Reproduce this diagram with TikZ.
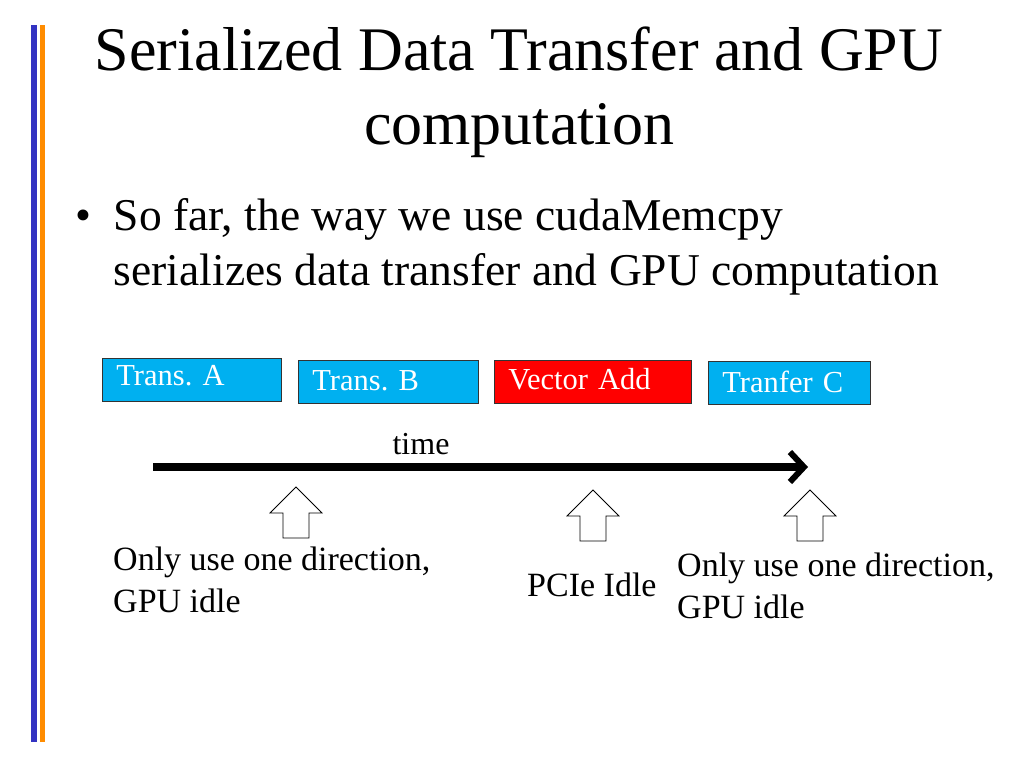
\documentclass[tikz,border=0pt]{standalone}
\usepackage{fontspec}
\setmainfont{Liberation Serif}
\usetikzlibrary{arrows.meta}
\definecolor{boxblue}{RGB}{0,176,240}
\frenchspacing
\tikzset{
 tbox/.style={draw=black!80,line width=0.8pt,minimum height=43pt,text=white,font=\fontsize{30.5}{32}\selectfont,anchor=north west,inner sep=0pt,text depth=0pt},
 uparr/.style={draw,line width=0.8pt,fill=white},
 lbl/.style={font=\fontsize{34}{42}\selectfont,align=left,anchor=north west,inner sep=0pt}
}
\newcommand{\myuparr}[2]{\draw[uparr] (#1-13,#2) -- (#1-13,#2-25) -- (#1-26,#2-25) -- (#1,#2-51) -- (#1+26,#2-25) -- (#1+13,#2-25) -- (#1+13,#2) -- cycle;}
\begin{document}
\begin{tikzpicture}[x=1pt,y=-1pt]
\useasboundingbox (0,0) rectangle (1024,768);
\fill[blue!70!black!80] (31,25) rectangle (37,742);
\fill[orange!90!yellow] (40,25) rectangle (45,742);
\node (title) at (519,92) [font=\fontsize{62}{74}\selectfont,align=center] {Serialized Data Transfer and GPU\\computation};
\node (bullet) at (75,198) [anchor=north west,inner sep=0pt,font=\fontsize{45.5}{55}\selectfont,align=left] {\textbullet\ \ So far, the way we use cudaMemcpy\\\hphantom{\textbullet\ \ }serializes data transfer and GPU computation};
\node[tbox,fill=boxblue,minimum width=179pt,text width=175pt] (a) at (102,358) {\hspace*{12pt}\raisebox{8pt}{Trans. A}};
\node[tbox,fill=boxblue,minimum width=180pt,text width=176pt] (b) at (298,360) {\hspace*{12pt}\raisebox{3pt}{Trans. B}};
\node[tbox,fill=red,minimum width=197pt,text width=193pt] (v) at (494,360) {\hspace*{12pt}\raisebox{5pt}{Vector Add}};
\node[tbox,fill=boxblue,minimum width=162pt,text width=158pt] (c) at (708,361) {\hspace*{12pt}\raisebox{2pt}{Tranfer C}};
\node (time) at (421,444) [font=\fontsize{32}{34}\selectfont] {time};
\coordinate (ts) at (153,467);
\coordinate (te) at (808,467);
\draw[line width=8pt,-{Straight Barb[length=14pt,width=30pt,line width=6pt]}] (ts) -- (te);
\myuparr{296}{538}
\myuparr{593}{541}
\myuparr{810}{541}
\node[lbl] (l1) at (113,547) {Only use one direction,\\GPU idle};
\node[lbl] (l2) at (527,573) {PCIe Idle};
\node[lbl] (l3) at (677,553) {Only use one direction,\\GPU idle};
\end{tikzpicture}
\end{document}
